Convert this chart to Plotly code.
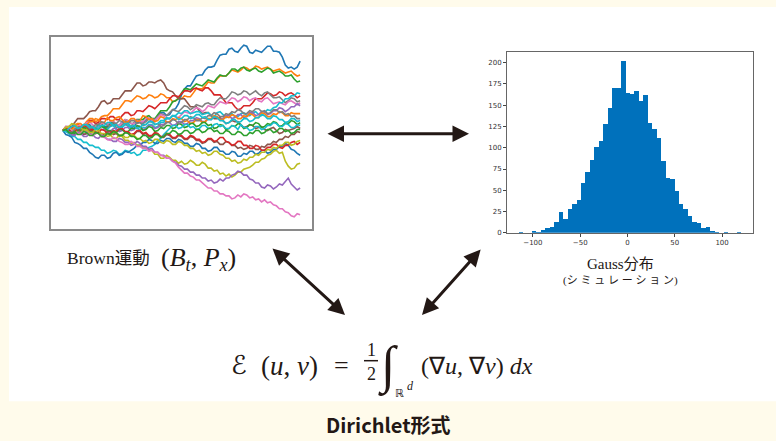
import plotly.graph_objects as go

# ---------------- data ----------------
# Brownian paths (values in plot units, sampled evenly from t=0 to t=100)
path_colors = ["#1f77b4", "#ff7f0e", "#2ca02c", "#8c564b", "#d62728", "#7f7f7f",
               "#e377c2", "#17becf", "#9467bd", "#ff7f0e", "#2ca02c", "#8c564b",
               "#17becf", "#1f77b4", "#bcbd22", "#9467bd", "#e377c2", "#d62728",
               "#bcbd22", "#7f7f7f", "#17becf", "#2ca02c"]

path_A = [0,3,2,-2,-1,3,3,2,5,6,2,2,6,7,4,4,8,8,5,5,9,10,7,3,4,8,8,7,11,12,9,9,14,18,18,15,16,21,22,27,36,42,45,45,50,55,56,56,61,64,64,65,71,76,77,77,82,83,80,79,83,86,85,79,78,81,80,79,82,85,85,80,80,79,74,66,63,64,62,64,70]
path_B = [0,3,3,2,6,7,4,5,9,12,12,9,10,14,15,15,18,22,22,22,26,30,30,29,32,35,34,32,33,36,35,33,34,37,36,33,33,29,30,33,32,35,34,34,38,42,42,42,45,49,48,48,52,55,55,55,58,61,60,59,61,64,63,61,62,65,64,62,63,64,62,60,61,62,60,58,59,60,57,55,56]
path_C = [0,1,-2,-3,1,4,3,0,0,4,4,3,6,6,3,3,7,8,5,5,8,11,10,7,7,11,11,11,14,15,12,12,16,20,20,20,24,29,30,32,38,42,42,41,44,47,46,45,48,51,50,49,53,56,55,55,58,62,62,60,63,64,61,60,62,63,60,59,61,63,62,58,59,60,58,55,55,56,52,49,50]
path_D = [0,4,4,4,8,12,12,12,15,19,20,20,24,29,30,27,28,32,32,32,36,40,40,40,44,48,48,45,46,49,49,48,50,51,48,42,40,39,35,32,32,32,28,24,24,24,20,17,18,18,15,12,12,13,10,7,8,10,9,9,6,3,4,6,5,2,3,4,1,0,2,3,0,-3,-2,1,0,1,2,4,2]
path_E = [0,3,2,2,5,6,3,3,7,10,10,7,8,12,12,11,14,14,11,11,15,18,18,15,16,20,20,19,22,25,24,22,25,28,28,28,32,35,35,34,37,40,40,39,42,43,41,40,43,43,40,36,36,36,32,28,28,28,24,21,22,25,25,25,28,32,32,32,35,38,37,35,36,39,38,35,37,38,36,33,35]
path_F = [0,1,-1,-1,2,3,0,0,3,4,1,1,4,5,2,2,5,6,3,3,6,7,4,4,8,11,10,7,9,12,12,11,14,17,16,15,18,21,20,19,22,25,24,21,23,26,25,24,27,28,26,26,30,33,32,32,35,39,38,36,37,40,39,36,38,40,37,35,38,39,36,33,33,34,31,28,30,33,32,29,30]
path_G = [0,4,3,0,1,5,5,4,8,9,6,3,4,7,7,6,9,10,6,5,8,11,10,7,7,10,9,9,12,13,10,10,13,16,15,12,12,15,14,13,16,19,18,17,20,23,22,19,21,25,24,23,26,29,28,27,30,33,32,29,31,34,33,30,32,33,30,29,32,33,30,27,28,29,27,26,29,30,28,26,28]
path_H = [0,2,1,-2,-2,2,2,-1,0,3,3,2,5,5,2,1,4,5,1,0,3,6,5,2,2,3,0,3,3,6,6,3,4,8,8,12,12,15,15,18,17,20,20,17,18,19,19,16,17,18,15,14,18,19,16,13,16,17,14,14,17,18,15,15,18,19,16,15,18,21,20,23,24,28,28,32,32,35,35,38,37]
path_I = [0,1,-2,-5,-4,-1,-1,-4,-3,0,0,-3,-2,1,1,-2,-1,2,2,-1,0,3,3,0,1,4,4,1,2,5,5,2,3,6,6,9,8,5,6,9,9,6,7,10,10,13,12,9,9,12,11,14,14,11,12,15,15,12,13,16,16,13,14,18,18,15,16,19,19,16,17,20,20,23,22,19,21,24,24,27,25]
path_J = [0,3,2,1,4,7,7,4,5,9,9,12,11,8,8,13,10,10,13,14,11,8,9,12,12,9,10,15,14,11,12,9,10,14,13,8,9,12,11,13,12,9,10,7,8,11,11,8,9,12,12,15,14,11,11,14,13,16,15,12,12,15,14,17,16,13,13,18,17,14,14,17,16,19,18,15,15,18,17,17,17]
path_K = [0,1,-1,-4,-3,0,0,3,2,-1,-1,2,1,4,3,0,0,-3,-2,1,1,-2,-1,2,2,5,4,0,1,4,3,-1,0,3,2,5,5,2,3,7,6,3,4,7,7,4,5,8,8,5,6,2,3,6,5,1,2,5,4,7,6,2,3,6,5,8,7,3,4,7,6,9,8,4,5,8,7,10,9,6,8]
path_L = [0,1,-2,-3,1,2,-1,-4,-3,0,0,-3,-2,-5,-4,-1,-1,-4,-3,-6,-5,-2,-2,-5,-4,-1,-1,-4,-3,-6,-6,-3,-4,-7,-7,-4,-5,-8,-8,-5,-6,-9,-9,-6,-7,-10,-10,-13,-12,-9,-9,-12,-11,-14,-14,-11,-12,-15,-15,-18,-17,-19,-18,-15,-16,-19,-19,-16,-17,-14,-14,-11,-12,-9,-9,-6,-7,-4,-4,-1,-2]
path_M = [0,-1,-3,-6,-6,-9,-9,-12,-12,-15,-15,-17,-17,-20,-20,-23,-22,-20,-21,-24,-23,-20,-21,-23,-22,-25,-24,-20,-20,-17,-16,-14,-10,-8,-4,-1,2,5,5,2,3,6,6,3,4,1,2,5,5,2,3,6,7,4,5,2,2,5,4,1,6,3,3,0,1,4,4,1,2,5,5,8,7,4,4,7,6,3,3,6,5]
path_N = [0,-4,-5,-7,-12,-13,-15,-18,-18,-22,-24,-27,-28,-25,-25,-28,-27,-23,-22,-25,-24,-21,-22,-20,-18,-15,-15,-12,-12,-9,-10,-13,-13,-10,-11,-8,-8,-11,-12,-9,-10,-13,-13,-16,-16,-13,-14,-18,-18,-21,-20,-17,-17,-21,-21,-24,-24,-21,-22,-26,-26,-23,-24,-21,-21,-24,-23,-20,-20,-23,-22,-19,-19,-16,-16,-13,-15,-19,-20,-23,-25]
path_O = [0,2,3,0,1,-2,-2,1,0,-4,-4,-1,-2,-6,-6,-3,-4,-8,-8,-5,-6,-10,-10,-13,-12,-15,-15,-18,-17,-20,-20,-24,-24,-28,-28,-25,-27,-30,-30,-33,-31,-34,-33,-30,-32,-35,-35,-32,-34,-38,-38,-41,-40,-44,-43,-46,-44,-47,-45,-42,-42,-39,-38,-37,-35,-32,-32,-29,-28,-25,-24,-21,-20,-23,-22,-31,-36,-39,-38,-34,-33]
path_P = [0,1,-2,-4,-5,-2,-3,-6,-6,-3,-4,-7,-8,-5,-6,-9,-9,-11,-11,-8,-9,-12,-12,-15,-14,-11,-13,-16,-16,-19,-18,-22,-22,-25,-25,-28,-28,-31,-32,-35,-36,-39,-39,-42,-42,-45,-45,-48,-48,-51,-50,-53,-52,-49,-51,-48,-48,-45,-44,-41,-42,-45,-45,-49,-50,-53,-53,-57,-58,-55,-56,-59,-57,-54,-55,-51,-48,-54,-57,-60,-58]
path_Q = [0,1,2,0,-1,-3,-3,0,-1,-4,-5,-2,-3,-6,-7,-9,-10,-7,-8,-11,-12,-14,-14,-11,-13,-16,-16,-18,-18,-21,-20,-22,-22,-25,-26,-28,-28,-31,-33,-37,-40,-43,-43,-46,-47,-50,-50,-53,-55,-58,-58,-61,-61,-64,-64,-66,-66,-69,-68,-65,-67,-64,-65,-68,-67,-70,-69,-72,-70,-73,-72,-75,-76,-79,-79,-82,-83,-86,-87,-84,-85]
path_R = [0,2,1,-2,-1,2,2,5,4,1,1,-2,-2,1,0,-3,-3,0,-1,2,2,-1,-1,-4,-3,0,0,-3,-2,-5,-5,-2,-3,-6,-6,-3,-4,-7,-7,-4,-5,-8,-8,-5,-6,-9,-9,-12,-11,-8,-8,-11,-10,-7,-7,-11,-12,-15,-14,-11,-11,-15,-15,-18,-18,-15,-16,-20,-20,-17,-17,-14,-14,-17,-18,-15,-15,-12,-11,-14,-12]
path_S = [0,3,4,7,6,3,3,0,1,-2,-2,1,0,-3,-3,-6,-5,-2,-2,-5,-4,-7,-7,-4,-5,-8,-8,-11,-10,-13,-12,-9,-9,-12,-13,-10,-11,-14,-14,-11,-12,-15,-15,-18,-18,-21,-20,-23,-22,-25,-24,-21,-21,-24,-25,-28,-28,-31,-30,-33,-32,-29,-30,-27,-27,-24,-25,-22,-22,-19,-20,-17,-18,-15,-15,-12,-12,-15,-14,-11,-10]
path_T = [0,1,-1,-2,1,3,3,6,5,2,3,6,6,9,8,5,5,8,7,10,9,6,7,10,10,7,8,5,6,9,9,6,7,4,5,8,8,11,10,7,8,11,11,14,13,10,10,13,12,15,15,18,17,14,14,17,16,19,18,21,20,17,17,20,19,22,22,19,20,17,18,21,21,18,19,16,17,14,15,12,12]
path_U = [0,-1,2,4,5,2,3,6,6,3,4,1,2,5,5,8,8,5,6,3,4,7,7,4,5,2,3,6,6,9,9,6,7,10,10,13,12,15,14,11,12,15,15,12,13,16,16,13,14,11,11,14,13,10,10,7,8,11,11,8,9,12,12,9,10,13,13,16,15,12,12,15,14,11,11,8,9,12,12,9,10]
path_V = [0,1,-2,-3,-1,-4,-4,-1,-2,-5,-5,-2,-3,-6,-6,-3,-4,-1,-2,-5,-5,-2,-3,-6,-6,-9,-8,-5,-5,-8,-7,-4,-4,-7,-6,-3,-3,0,-1,-4,-3,0,0,-3,-2,1,1,-2,-1,2,2,-1,0,-3,-3,0,-1,-4,-4,-1,-2,-5,-5,-2,-3,0,0,-3,-2,1,1,-2,-1,2,2,-1,0,-3,-2,1,1]

paths = [path_A, path_B, path_C, path_D, path_E, path_F, path_G, path_H, path_I, path_J, path_K,
         path_L, path_M, path_N, path_O, path_P, path_Q, path_R, path_S, path_T, path_U, path_V]
t_end = 100

# Gaussian histogram (50 bins)
hist_start = -115.1
hist_bin_width = 4.71
hist_counts = [1, 0, 0, 3, 1, 4, 6, 8, 13, 25, 17, 29, 35, 39, 59, 72, 86, 102, 108, 128,
               147, 171, 171, 203, 165, 164, 167, 156, 163, 130, 123, 112, 85, 65, 64, 50, 35, 29, 20, 13,
               12, 6, 7, 3, 1, 0, 2, 0, 0, 1]
hist_xticks = [-100, -50, 0, 50, 100]
hist_xticklabels = ["\u2212100", "\u221250", "0", "50", "100"]
hist_yticks = [0, 25, 50, 75, 100, 125, 150, 175, 200]

# ---------------- figure ----------------
W, H = 776, 441


def px(x):
    return x / W


def py(y):
    return 1 - y / H


fig = go.Figure()

for vals, col in zip(paths, path_colors):
    n = len(vals)
    ts = [t_end * i / (n - 1) for i in range(n)]
    fig.add_trace(go.Scatter(x=ts, y=vals, mode="lines",
                             line=dict(color=col, width=1.6), xaxis="x", yaxis="y",
                             hoverinfo="skip"))

centers = [hist_start + (i + 0.5) * hist_bin_width for i in range(len(hist_counts))]
fig.add_trace(go.Bar(x=centers, y=hist_counts, width=hist_bin_width,
                     marker=dict(color="#0071BC", line=dict(width=0)),
                     xaxis="x2", yaxis="y2"))

INK = "#231815"

fig.update_layout(
    width=W, height=H, margin=dict(l=0, r=0, t=0, b=0),
    paper_bgcolor="#FFFBEB", plot_bgcolor="white", showlegend=False, bargap=0,
    xaxis=dict(domain=[px(51), px(312)], range=[-5, 105], showticklabels=False,
               showgrid=False, zeroline=False, showline=True, mirror=True,
               linecolor="#8a8a8a", linewidth=1.5, ticks="", anchor="y"),
    yaxis=dict(domain=[py(231), py(37)], range=[-99.3, 94.7], showticklabels=False,
               showgrid=False, zeroline=False, showline=True, mirror=True,
               linecolor="#8a8a8a", linewidth=1.5, ticks="", anchor="x"),
    xaxis2=dict(domain=[px(507), px(753)], range=[-127.4, 132.7], anchor="y2",
                tickvals=hist_xticks, ticktext=hist_xticklabels, ticks="outside",
                ticklen=3, tickcolor="#444", tickfont=dict(size=7, color="#333", family="DejaVu Sans"),
                showgrid=False, zeroline=False, showline=True, mirror=True,
                linecolor="#666", linewidth=1),
    yaxis2=dict(domain=[py(235), py(52)], range=[0, 213], anchor="x2",
                tickvals=hist_yticks, ticks="outside",
                ticklen=3, tickcolor="#444", tickfont=dict(size=7, color="#333", family="DejaVu Sans"),
                showgrid=False, zeroline=False, showline=True, mirror=True,
                linecolor="#666", linewidth=1),
)

# white panel
fig.add_shape(type="rect", xref="paper", yref="paper", x0=px(9), x1=1, y0=py(405), y1=py(7),
              fillcolor="white", line=dict(width=0), layer="below")
# fraction bar
fig.add_shape(type="line", xref="paper", yref="paper", x0=px(364), x1=px(378), y0=py(364), y1=py(364),
              line=dict(color=INK, width=1.5))

SERIF = "Liberation Serif, DejaVu Serif, Noto Sans CJK JP"


def txt(x, y, s, size, family=SERIF, xa="center", ya="middle", color=INK):
    fig.add_annotation(x=px(x), y=py(y), xref="paper", yref="paper", text=s, showarrow=False,
                       xanchor=xa, yanchor=ya, font=dict(size=size, family=family, color=color))


txt(65, 260, "Brown運動", 17.5, xa="left")
txt(159, 261, "(<i>B</i><sub><i>t</i></sub>, <i>P</i><sub><i>x</i></sub>)", 26, family="Liberation Serif", xa="left")
txt(620, 266, "Gauss分布", 15)
txt(620, 283, "(シ ミ ュ レ ー シ ョ ン)", 11)

# formula
txt(239, 368, "ℰ", 26, family="DejaVu Sans")
txt(289, 369, "(<i>u</i>, <i>v</i>)", 27, family="Liberation Serif")
txt(341, 369, "=", 26, family="Liberation Serif")
txt(371, 353, "1", 18, family="Liberation Serif")
txt(371, 377, "2", 18, family="Liberation Serif")
txt(388, 369, "∫", 52, family="Liberation Serif")
txt(400, 397, "ℝ", 11, family="DejaVu Sans")
txt(410, 390, "<i>d</i>", 12, family="Liberation Serif")
txt(419, 369, "(∇<i>u</i>, ∇<i>v</i>) <i>dx</i>", 24, family="Liberation Serif", xa="left")

txt(388, 428, "<b>Dirichlet形式</b>", 20, family="Noto Sans CJK JP")

# double arrows
arrows = [((469, 135), (326, 135)), ((345, 318), (271, 250)), ((422, 318), (482, 251))]
for (hx, hy), (tx, ty) in arrows:
    fig.add_annotation(x=px(hx), y=py(hy), xref="paper", yref="paper", text="", showarrow=True,
                       ax=tx - hx, ay=ty - hy, axref="pixel", ayref="pixel",
                       arrowhead=2, startarrowhead=2, arrowside="end+start", arrowsize=1.1,
                       startarrowsize=1.1, arrowwidth=3, arrowcolor=INK, standoff=0, startstandoff=0)

fig.write_html("out.html", config={"displayModeBar": False},
               post_script="document.body.style.margin='0px';")
